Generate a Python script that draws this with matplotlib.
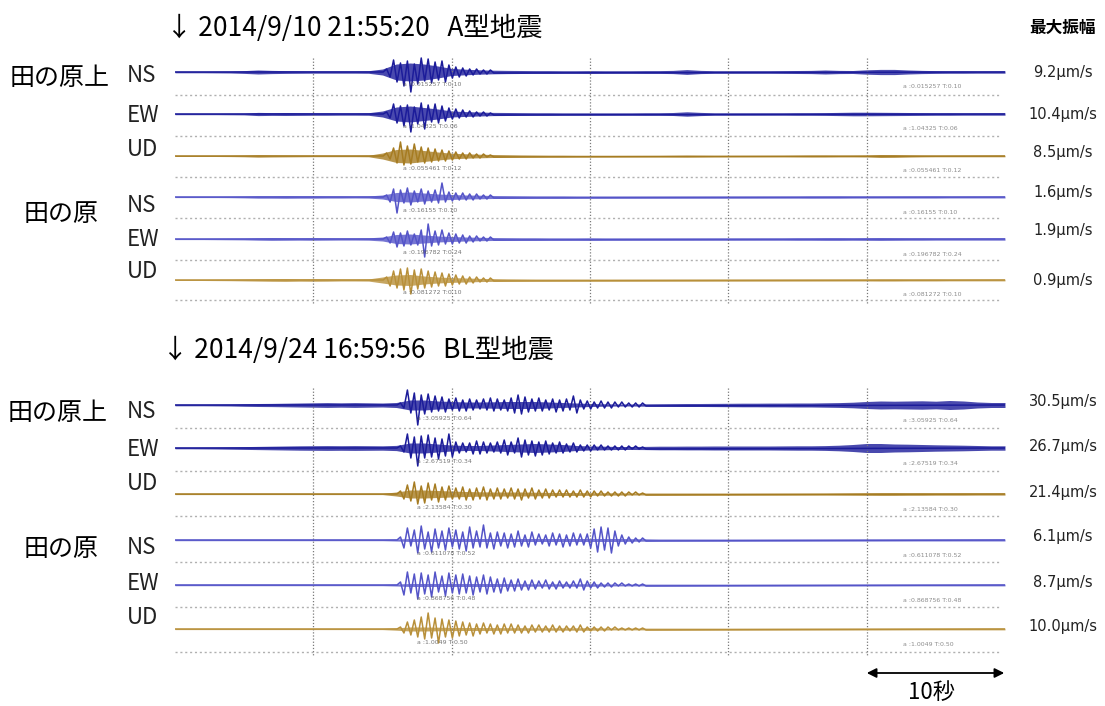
import numpy as np
import matplotlib.pyplot as plt
from matplotlib.patches import FancyArrowPatch

plt.rcParams['font.family'] = ['Noto Sans CJK JP', 'DejaVu Sans']

#%% Données (amplitudes en px, pas de 0.25 s pour les ondes)

titles = ['↓ 2014/9/10 21:55:20   A型地震', '↓ 2014/9/24 16:59:56   BL型地震']
stations = ['田の原上', '田の原']
components = ['NS', 'EW', 'UD']
max_amp_a = ['9.2µm/s', '10.4µm/s', '8.5µm/s', '1.6µm/s', '1.9µm/s', '0.9µm/s']
max_amp_b = ['30.5µm/s', '26.7µm/s', '21.4µm/s', '6.1µm/s', '8.7µm/s', '10.0µm/s']
note_a = ['a :0.015257 T:0.10', 'a :1.04325 T:0.06', 'a :0.055461 T:0.12',
          'a :0.16155 T:0.10', 'a :0.196782 T:0.24', 'a :0.081272 T:0.10']
note_b = ['a :3.05925 T:0.64', 'a :2.67519 T:0.34', 'a :2.13584 T:0.30',
          'a :0.611078 T:0.52', 'a :0.868756 T:0.48', 'a :1.0049 T:0.50']

onset_a = 15.3
onset_b = 16.3
step = 0.25

wave_a = [
    [3, -5, 12, -10, 9, -14, 11, -20, 8, -12, 14, -9, 13, -11, 10, -8, 11, -10, 7, -6, 5, -5, 4, -4, 3, -3, 3, -2, 2, -2, 2, -1],
    [2, -4, 10, -9, 8, -12, 9, -18, 7, -10, 11, -15, 9, -8, 10, -9, 8, -7, 6, -5, 5, -4, 4, -3, 3, -3, 2, -2, 2, -2, 1, -1],
    [3, -3, 8, -7, 14, -9, 10, -8, 12, -6, 9, -7, 8, -6, 7, -5, 6, -5, 5, -4, 4, -3, 3, -3, 3, -2, 2, -2, 2, -1, 1, -1],
    [2, -5, 8, -16, 7, -6, 9, -8, 6, -5, 8, -7, 6, -5, 7, -6, 14, -5, 5, -4, 4, -3, 4, -3, 3, -3, 3, -2, 2, -2, 2, -1],
    [2, -4, 7, -8, 6, -7, 8, -6, 5, -6, 9, -18, 15, -7, 8, -6, 9, -5, 6, -5, 5, -4, 4, -4, 3, -3, 3, -2, 2, -2, 2, -1],
    [3, -6, 9, -8, 11, -10, 12, -14, 10, -9, 11, -8, 9, -7, 8, -6, 7, -6, 6, -5, 5, -4, 4, -4, 3, -3, 3, -2, 2, -2, 2, -1],
]

wave_b = [
    [2, -3, 15, -8, 12, -20, 10, -9, 11, -7, 9, -6, 8, -7, 6, -5,
     7, -6, 5, -6, 6, -5, 5, -4, 6, -5, 7, -6, 6, -5, 5, -6,
     7, -8, 10, -9, 8, -7, 6, -6, 7, -6, 5, -5, 6, -7, 5, -6,
     6, -5, 9, -8, 5, -4, 4, -4, 3, -3, 4, -3, 3, -3, 3, -2,
     3, -2, 2, -2, 2, -2, 2, -1],
    [2, -4, 14, -10, 11, -18, 12, -10, 13, -9, 10, -11, 9, -8, 14, -9,
     6, -5, 5, -4, 5, -6, 7, -6, 6, -5, 5, -4, 6, -5, 8, -7,
     6, -5, 10, -9, 8, -7, 7, -8, 6, -7, 7, -6, 5, -5, 6, -5,
     4, -4, 5, -4, 3, -3, 3, -3, 3, -2, 3, -2, 2, -2, 2, -2,
     2, -2, 2, -1, 2, -1, 1, -1],
    [3, -5, 9, -7, 12, -10, 8, -9, 11, -6, 10, -8, 7, -6, 8, -5,
     6, -5, 7, -6, 5, -6, 6, -5, 7, -6, 5, -5, 6, -5, 5, -4,
     6, -5, 5, -6, 5, -4, 6, -5, 4, -4, 5, -4, 4, -3, 4, -3,
     4, -3, 3, -3, 4, -3, 3, -3, 3, -2, 3, -2, 2, -2, 2, -2,
     2, -2, 2, -1, 2, -1, 1, -1],
    [3, -8, 12, -6, 10, -13, 14, -9, 8, -12, 11, -8, 9, -10, 12, -7,
     10, -9, 8, -11, 13, -8, 9, -7, 15, -8, 7, -9, 8, -6, 7, -8,
     6, -7, 9, -6, 5, -7, 8, -5, 6, -4, 5, -6, 7, -5, 6, -7,
     5, -6, 7, -5, 6, -5, 6, -8, 11, -12, 13, -10, 12, -13, 9, -6,
     5, -4, 3, -3, 2, -2, 2, -1],
    [3, -10, 13, -8, 11, -14, 12, -9, 10, -12, 13, -7, 9, -11, 12, -8,
     10, -9, 11, -8, 9, -10, 8, -7, 10, -9, 8, -7, 6, -8, 7, -6,
     5, -6, 6, -5, 4, -5, 5, -4, 4, -3, 5, -4, 3, -4, 4, -3,
     3, -3, 4, -3, 6, -5, 4, -3, 3, -3, 2, -2, 2, -2, 2, -1,
     2, -1, 1, -1, 1, -1, 1, -1],
    [2, -4, 7, -6, 9, -8, 12, -10, 16, -9, 11, -14, 10, -8, 9, -9,
     8, -7, 7, -6, 6, -7, 5, -5, 6, -4, 5, -5, 4, -5, 5, -4,
     5, -4, 4, -4, 3, -4, 4, -3, 4, -3, 3, -3, 4, -3, 3, -3,
     3, -2, 3, -3, 4, -3, 2, -2, 2, -2, 2, -2, 2, -1, 2, -1,
     1, -1, 1, -1, 1, -1, 1, -1],
]

# demi-largeur du bruit, une valeur par seconde (0..59 s)
band_a = [
    [0.8, 0.8, 0.8, 0.9, 1.0, 1.4, 2.0, 1.6, 1.4, 1.3, 1.2, 1.2, 1.2, 1.2, 1.3, 3.0, 8.0, 9.0, 8.0, 6.0,
     3.5, 2.8, 2.2, 1.8, 1.6, 1.5, 1.4, 1.4, 1.3, 1.3, 1.4, 1.3, 1.3, 1.3, 1.4, 1.4, 1.6, 2.4, 1.6, 1.3,
     1.3, 1.3, 1.3, 1.3, 1.4, 1.5, 1.6, 2.0, 1.6, 1.5, 2.2, 2.6, 2.6, 2.0, 1.6, 1.4, 1.3, 1.3, 1.2, 1.2],
    [0.7, 0.7, 0.7, 0.7, 0.8, 0.9, 1.6, 1.4, 1.5, 1.4, 1.3, 1.3, 1.2, 1.2, 1.3, 3.0, 7.0, 8.0, 6.5, 5.0,
     3.0, 2.4, 2.0, 1.6, 1.5, 1.4, 1.3, 1.3, 1.2, 1.2, 1.2, 1.2, 1.2, 1.2, 1.3, 1.3, 1.5, 2.2, 1.6, 1.2,
     1.2, 1.2, 1.2, 1.2, 1.2, 1.3, 1.3, 1.4, 1.6, 1.8, 1.8, 1.7, 1.6, 1.5, 1.4, 1.3, 1.3, 1.2, 1.2, 1.2],
    [0.5, 0.5, 0.5, 0.5, 0.6, 0.8, 1.2, 1.0, 0.9, 0.8, 0.7, 0.7, 0.7, 0.7, 0.8, 3.0, 6.5, 7.0, 5.5, 4.0,
     2.8, 2.2, 1.8, 1.5, 1.3, 1.1, 1.0, 0.9, 0.9, 0.8, 0.8, 0.8, 0.8, 0.8, 0.8, 0.8, 0.9, 1.0, 0.9, 0.8,
     0.8, 0.8, 0.8, 0.8, 0.8, 0.9, 1.0, 1.0, 0.9, 0.9, 1.0, 1.5, 1.4, 1.1, 0.9, 0.8, 0.8, 0.8, 0.8, 0.8],
    [0.6, 0.6, 0.6, 0.6, 0.7, 0.9, 1.2, 1.2, 1.3, 1.2, 1.2, 1.1, 1.1, 1.0, 1.1, 2.0, 4.5, 5.0, 4.0, 3.0,
     2.5, 2.0, 1.8, 1.5, 1.4, 1.3, 1.2, 1.2, 1.2, 1.1, 1.1, 1.1, 1.1, 1.1, 1.1, 1.1, 1.1, 1.1, 1.1, 1.1,
     1.1, 1.1, 1.1, 1.1, 1.1, 1.1, 1.2, 1.2, 1.2, 1.1, 1.1, 1.1, 1.1, 1.1, 1.1, 1.1, 1.0, 1.0, 1.0, 1.0],
    [0.6, 0.6, 0.6, 0.7, 0.8, 0.9, 1.2, 1.4, 1.3, 1.2, 1.3, 1.2, 1.1, 1.1, 1.2, 2.0, 4.5, 5.0, 4.0, 3.0,
     2.5, 2.0, 1.7, 1.5, 1.4, 1.3, 1.3, 1.2, 1.2, 1.2, 1.3, 1.2, 1.2, 1.2, 1.2, 1.2, 1.2, 1.2, 1.2, 1.2,
     1.2, 1.2, 1.2, 1.2, 1.2, 1.3, 1.3, 1.4, 1.4, 1.3, 1.4, 1.5, 1.4, 1.3, 1.3, 1.2, 1.2, 1.2, 1.2, 1.2],
    [0.5, 0.5, 0.5, 0.6, 0.7, 0.9, 1.1, 1.3, 1.4, 1.2, 1.3, 1.2, 1.0, 1.0, 1.1, 3.0, 5.0, 5.5, 4.0, 3.0,
     2.4, 2.0, 1.6, 1.4, 1.2, 1.1, 1.0, 1.0, 1.0, 1.0, 1.0, 1.0, 1.0, 1.0, 1.0, 1.0, 1.0, 1.0, 1.0, 1.0,
     1.0, 1.0, 1.0, 1.0, 1.0, 1.0, 1.0, 1.0, 1.0, 1.0, 1.0, 1.1, 1.1, 1.0, 1.0, 1.0, 0.9, 0.9, 0.9, 0.9],
]

band_b = [
    [0.8, 0.8, 0.8, 0.9, 1.0, 1.3, 1.5, 1.6, 1.8, 2.0, 2.2, 2.4, 2.2, 2.4, 2.2, 2.0, 2.5, 5.0, 5.0, 4.0,
     3.5, 3.0, 3.0, 3.2, 3.5, 3.5, 3.5, 3.0, 2.5, 2.0, 1.5, 1.2, 1.0, 1.0, 1.2, 1.3, 1.4, 1.5, 1.5, 1.6,
     1.7, 1.8, 1.8, 1.9, 1.9, 2.0, 2.0, 2.2, 2.4, 2.8, 3.5, 4.0, 3.8, 4.0, 4.2, 3.8, 4.5, 4.0, 3.0, 2.5],
    [0.8, 0.8, 0.9, 1.0, 1.2, 1.4, 1.6, 1.8, 2.0, 2.2, 2.3, 2.4, 2.3, 2.4, 2.3, 2.2, 2.6, 5.0, 5.0, 4.0,
     3.0, 2.5, 2.5, 3.0, 3.5, 4.0, 4.5, 4.0, 3.5, 2.5, 2.0, 1.8, 1.5, 1.5, 1.6, 1.8, 1.8, 1.9, 1.9, 2.0,
     2.0, 2.0, 2.0, 2.0, 2.1, 2.2, 2.2, 2.4, 2.8, 3.5, 4.5, 4.5, 4.0, 3.8, 3.5, 3.2, 3.0, 2.8, 2.5, 2.2],
    [0.6, 0.6, 0.6, 0.6, 0.6, 0.6, 0.6, 0.6, 0.6, 0.6, 0.6, 0.6, 0.6, 0.6, 0.6, 0.6, 2.0, 4.0, 4.0, 3.5,
     3.0, 2.5, 2.2, 2.0, 2.0, 2.0, 1.8, 1.6, 1.5, 1.4, 1.3, 1.2, 1.1, 1.0, 1.0, 1.0, 1.0, 1.0, 1.0, 1.0,
     1.0, 1.0, 1.0, 1.0, 1.0, 1.0, 1.0, 1.0, 1.1, 1.2, 1.3, 1.4, 1.4, 1.3, 1.3, 1.2, 1.2, 1.2, 1.1, 1.1],
    [0.7, 0.7, 0.7, 0.7, 0.7, 0.7, 0.7, 0.7, 0.7, 0.7, 0.7, 0.7, 0.7, 0.7, 0.7, 0.7, 1.0, 1.5, 1.5, 1.5,
     1.5, 1.5, 1.5, 1.5, 1.5, 1.5, 1.5, 1.5, 1.5, 1.5, 1.5, 1.5, 1.5, 1.3, 1.2, 1.0, 1.0, 1.0, 1.0, 1.0,
     1.0, 1.0, 1.0, 1.0, 1.0, 1.0, 1.0, 1.0, 1.0, 1.0, 1.0, 1.0, 1.0, 1.0, 1.0, 1.0, 1.0, 1.0, 1.0, 1.0],
    [0.7, 0.7, 0.7, 0.7, 0.7, 0.7, 0.7, 0.7, 0.7, 0.7, 0.7, 0.7, 0.7, 0.7, 0.7, 0.7, 1.0, 1.5, 1.5, 1.5,
     1.5, 1.5, 1.5, 1.5, 1.4, 1.3, 1.2, 1.2, 1.2, 1.2, 1.3, 1.0, 0.9, 0.9, 0.9, 0.9, 0.9, 0.9, 0.9, 0.9,
     0.9, 0.9, 0.9, 0.9, 0.9, 0.9, 0.9, 0.9, 0.9, 0.9, 0.9, 0.9, 0.9, 0.9, 0.9, 0.9, 0.9, 0.9, 0.9, 0.9],
    [0.6, 0.6, 0.6, 0.6, 0.6, 0.6, 0.6, 0.6, 0.6, 0.6, 0.6, 0.6, 0.6, 0.6, 0.6, 0.6, 1.2, 2.0, 2.0, 1.8,
     1.6, 1.5, 1.5, 1.4, 1.3, 1.3, 1.2, 1.2, 1.2, 1.2, 1.3, 1.0, 0.9, 0.9, 0.9, 0.9, 0.9, 0.9, 0.9, 0.9,
     0.9, 0.9, 0.9, 0.9, 0.9, 0.9, 0.9, 0.9, 0.9, 0.9, 0.9, 0.9, 0.9, 0.9, 0.9, 0.9, 0.9, 0.9, 0.9, 0.9],
]

colors = ['#1c1c9a', '#1c1c9a', '#a67c22', '#5454c8', '#5454c8', '#b8903a']

#%% Figure

W, H = 1105, 706
fig = plt.figure(figsize=(W / 100, H / 100), dpi=100)
sec = np.arange(61)


def panel(top_px, bot_px, rows, dots, onset, waves, bands, amps, amp_y, notes):
    ax = fig.add_axes([175 / W, 1 - bot_px / H, 830 / W, (bot_px - top_px) / H])
    ax.set_xlim(0, 60)
    ax.set_ylim(bot_px, top_px)
    ax.axis('off')

    ax.vlines([10, 20, 30, 40, 50], top_px + 2, dots[-1] + 3, color='#7a7a7a',
              linestyle=(0, (1, 1.5)), lw=0.9)
    ax.hlines(dots, 0, 59.6, color='#b0b0b0', linestyle=(0, (1.5, 2)), lw=1.0)

    for i in range(6):
        base = rows[i]
        b = np.append(bands[i], bands[i][-1])
        ax.fill_between(sec, base - b, base + b, color=colors[i], alpha=0.8, lw=0)
        w = np.array(waves[i])
        t = np.concatenate([[0, onset - step], onset + step * np.arange(len(w)), [60]])
        y = np.concatenate([[0, 0], w, [0]])
        ax.plot(t, base - y, color=colors[i], lw=1.1)
        ax.text(52.6, base + 15, notes[i], fontsize=4.5, color='#8c8c8c',
                va='center', family='DejaVu Sans')
        ax.text(onset + 1.2, base + 13, notes[i], fontsize=4.5, color='#555555',
                va='center', family='DejaVu Sans', alpha=0.8)
        fig.text(1063 / W, 1 - amp_y[i] / H, amps[i], fontsize=10.5, ha='center',
                 va='center', family=['DejaVu Sans'], color='#222222')
    return ax


panel(56, 306, [72, 114, 156, 197, 239, 280], [95, 136, 177, 218, 260, 300],
      onset_a, wave_a, band_a, max_amp_a, [73, 114, 153, 193, 230, 280], note_a)
panel(386, 658, [405, 448, 494, 540, 585, 629], [428, 471, 516, 562, 607, 652],
      onset_b, wave_b, band_b, max_amp_b, [402, 447, 493, 537, 582, 627], note_b)

# titres
fig.text(166 / W, 1 - 28 / H, titles[0], fontsize=19, va='center')
fig.text(162 / W, 1 - 350 / H, titles[1], fontsize=19, va='center')
fig.text(1063 / W, 1 - 28 / H, '最大振幅', fontsize=12, ha='center', va='center',
         fontweight='bold')

# stations et composantes
fig.text(60 / W, 1 - 78 / H, stations[0], fontsize=18, ha='center', va='center')
fig.text(61 / W, 1 - 214 / H, stations[1], fontsize=18, ha='center', va='center')
fig.text(58 / W, 1 - 413 / H, stations[0], fontsize=18, ha='center', va='center')
fig.text(61 / W, 1 - 549 / H, stations[1], fontsize=18, ha='center', va='center')

comp_y_a = [75, 116, 150, 205, 240, 272]
comp_y_b = [412, 450, 483, 548, 583, 617]
for i in range(6):
    fig.text(127 / W, 1 - comp_y_a[i] / H, components[i % 3], fontsize=16, va='center',
             color='#222222')
    fig.text(127 / W, 1 - comp_y_b[i] / H, components[i % 3], fontsize=16, va='center',
             color='#222222')

# échelle 10 s
fig.add_artist(FancyArrowPatch(
    (864 / W, 1 - 673 / H), (1007 / W, 1 - 673 / H), transform=fig.transFigure,
    arrowstyle='<|-|>', mutation_scale=14, color='black', lw=1.3))
fig.text(932 / W, 1 - 692 / H, '10秒', fontsize=16, ha='center', va='center')

plt.savefig('out.png', dpi=100)
